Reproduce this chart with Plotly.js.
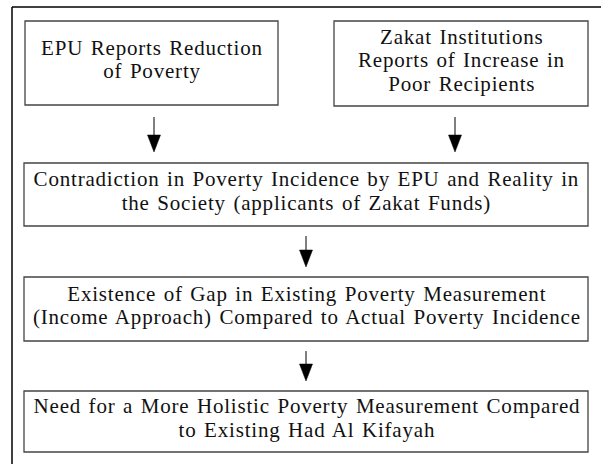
<!DOCTYPE html>
<html>
<head>
<meta charset="utf-8">
<script src="https://cdn.plot.ly/plotly-3.0.1.min.js"></script>
<style>
html,body{margin:0;padding:0;background:#fff;}
#chart{width:601px;height:464px;}
#chart .annotation-text{letter-spacing:0.8px; word-spacing:1.5px;}
</style>
</head>
<body>
<div id="chart"></div>
<script>
// Flowchart content: lines of text for each box
const box1Lines = ["EPU Reports Reduction", "of Poverty"];
const box2Lines = ["Zakat Institutions", "Reports of Increase in", "Poor Recipients"];
const box3Lines = ["Contradiction in Poverty Incidence by EPU and Reality in", "the Society (applicants of Zakat Funds)"];
const box4Lines = ["Existence of Gap in Existing Poverty Measurement", "(Income Approach) Compared to Actual Poverty Incidence"];
const box5Lines = ["Need for a More Holistic Poverty Measurement Compared", "to Existing Had Al Kifayah"];
const boxTexts = [box1Lines, box2Lines, box3Lines, box4Lines, box5Lines];

// layout geometry (pixels): [x0, y0, x1, y1]
const boxGeom = [
  [25, 21, 278, 105],
  [334, 21, 588, 106],
  [24, 163, 588, 226],
  [24, 277, 588, 341],
  [24, 391, 588, 452]
];
// arrows: [x, yStart, yEnd]
const arrowGeom = [
  [154, 117, 152],
  [455, 117, 152],
  [306, 236, 267],
  [306, 351, 381]
];
const lineGap = 23.5;

const shapes = [];
const annotations = [];
// outer frame (top and left only)
shapes.push({type:'line', x0:12, y0:7, x1:601, y1:7, line:{color:'#000', width:1.5}});
shapes.push({type:'line', x0:12, y0:7, x1:12, y1:464, line:{color:'#000', width:1.5}});

boxGeom.forEach((g, i) => {
  shapes.push({type:'rect', x0:g[0], y0:g[1], x1:g[2], y1:g[3], line:{color:'#444', width:1.3}, fillcolor:'rgba(0,0,0,0)'});
  const lines = boxTexts[i];
  const cy = (g[1] + g[3]) / 2 - 3.5;
  lines.forEach((t, k) => {
    annotations.push({
      x:(g[0]+g[2])/2 + 0.5, y: cy + (k - (lines.length - 1) / 2) * lineGap, xref:'x', yref:'y',
      text: t, showarrow:false, align:'center',
      xanchor:'center', yanchor:'middle',
      font:{family:'Liberation Serif, Times New Roman, serif', size:21, color:'#111'}
    });
  });
});

arrowGeom.forEach(a => {
  const [x, ys, ye] = a;
  const headH = 17, headW = 6.5;
  shapes.push({type:'line', x0:x, y0:ys, x1:x, y1:ye-headH+1, line:{color:'#000', width:1}});
  shapes.push({type:'path', path:`M ${x-headW} ${ye-headH} L ${x+headW} ${ye-headH} L ${x} ${ye} Z`, fillcolor:'#000', line:{color:'#000', width:0.5}});
});

const layout = {
  width:601, height:464,
  margin:{l:0, r:0, t:0, b:0},
  paper_bgcolor:'#fff', plot_bgcolor:'#fff',
  xaxis:{range:[0,601], visible:false, fixedrange:true},
  yaxis:{range:[464,0], visible:false, fixedrange:true},
  shapes, annotations, showlegend:false
};
Plotly.newPlot('chart', [], layout, {displayModeBar:false, staticPlot:true});
</script>
</body>
</html>
